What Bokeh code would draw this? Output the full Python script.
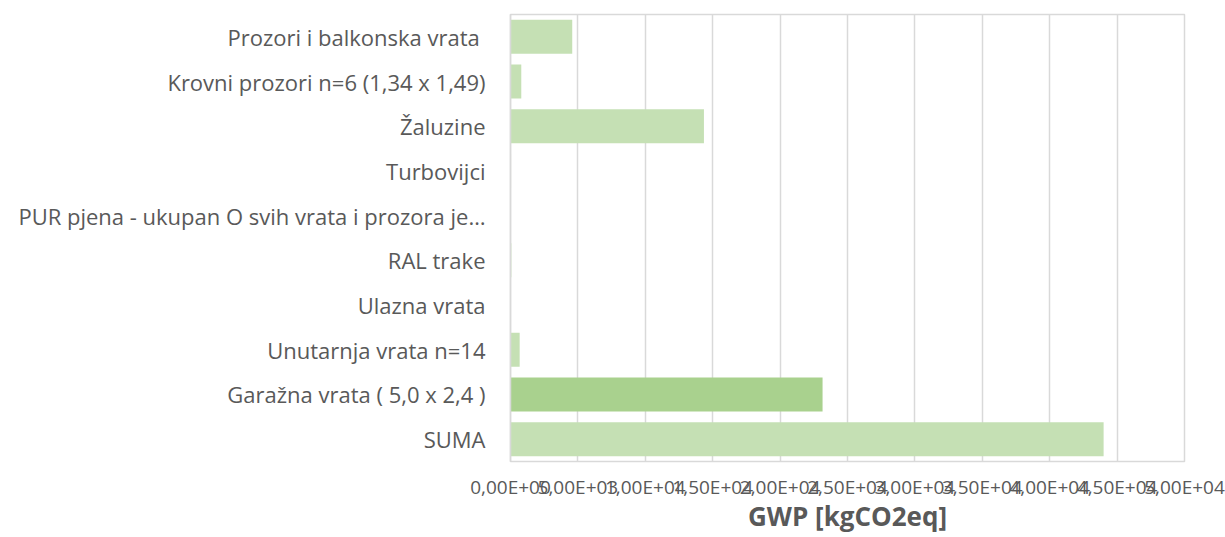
from bokeh.plotting import figure
from bokeh.models import CustomJSTickFormatter, FixedTicker, FactorRange, Range1d
from bokeh.embed import file_html
from bokeh.resources import INLINE

categories = [
    "Prozori  i balkonska vrata",
    "Krovni prozori n=6 (1,34 x 1,49)",
    "Žaluzine",
    "Turbovijci",
    "PUR pjena - ukupan O svih vrata i prozora je…",
    "RAL trake",
    "Ulazna vrata",
    "Unutarnja vrata n=14",
    "Garažna vrata ( 5,0 x 2,4 )",
    "SUMA",
]
values = [4580, 800, 14350, 40, 20, 60, 10, 680, 23150, 44000]
colors = ["#C5E0B4"] * 8 + ["#A9D18E", "#C5E0B4"]
ticks = [0, 5000, 10000, 15000, 20000, 25000, 30000, 35000, 40000, 45000, 50000]

FONT = "Open Sans"
TXT = "#595959"

p = figure(
    width=1225, height=537,
    y_range=FactorRange(factors=list(reversed(categories)), range_padding=0),
    x_range=Range1d(0, 50000),
    output_backend="svg", toolbar_location=None,
    min_border_left=510, min_border_right=41, min_border_top=14, min_border_bottom=76,
)
p.hbar(y=categories, right=values, left=0, height=0.76, fill_color=colors, line_color=None)

p.outline_line_color = "#D9D9D9"
p.outline_line_width = 1.5
p.ygrid.grid_line_color = None
p.xgrid.grid_line_color = "#D9D9D9"
p.xgrid.grid_line_width = 1.5
p.xaxis.ticker = FixedTicker(ticks=ticks)
p.xaxis.formatter = CustomJSTickFormatter(code="""
let s = tick.toExponential(2);
let parts = s.split('e');
let m = parts[0].replace('.', ',');
let e = parseInt(parts[1]);
let sign = e < 0 ? '-' : '+';
let a = Math.abs(e);
return m + 'E' + sign + (a < 10 ? '0' + a : '' + a);
""")
p.xaxis.axis_line_color = None
p.xaxis.major_tick_line_color = None
p.xaxis.minor_tick_line_color = None
p.xaxis.major_tick_out = 0
p.xaxis.major_tick_in = 0
p.xaxis.major_label_text_font = FONT
p.xaxis.major_label_text_font_size = "19px"
p.xaxis.major_label_text_color = TXT
p.xaxis.major_label_standoff = 12
p.xaxis.axis_label = "GWP [kgCO2eq]"
p.xaxis.axis_label_text_font = FONT
p.xaxis.axis_label_text_font_size = "26px"
p.xaxis.axis_label_text_font_style = "bold"
p.xaxis.axis_label_text_color = TXT
p.xaxis.axis_label_standoff = -5

p.yaxis.axis_line_color = "#D9D9D9"
p.yaxis.axis_line_width = 1.5
p.yaxis.major_tick_line_color = None
p.yaxis.minor_tick_line_color = None
p.yaxis.major_tick_out = 0
p.yaxis.major_tick_in = 0
p.yaxis.major_label_text_font = FONT
p.yaxis.major_label_text_font_size = "22px"
p.yaxis.major_label_text_color = TXT
p.yaxis.major_label_standoff = 25

open("out.html", "w").write(file_html(p, INLINE))
